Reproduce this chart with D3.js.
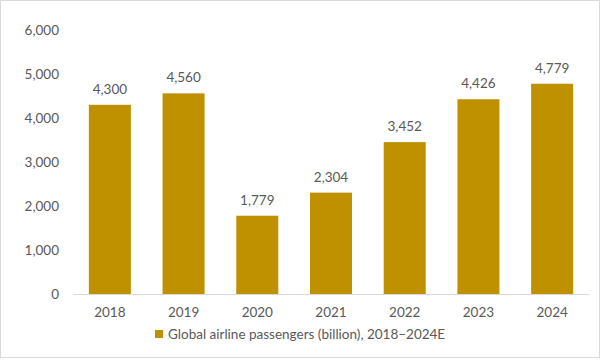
<!DOCTYPE html>
<html>
<head>
<meta charset="utf-8">
<script src="https://cdn.jsdelivr.net/npm/d3@7"></script>
<style>
  body { margin: 0; background: #fff; }
  text { font-family: Lato, "Open Sans", sans-serif; fill: #595959; }
</style>
</head>
<body>
<div id="chart"></div>
<script>
const years = ["2018", "2019", "2020", "2021", "2022", "2023", "2024"];
const passengers = [4300, 4560, 1779, 2304, 3452, 4426, 4779];
const yTicks = [0, 1000, 2000, 3000, 4000, 5000, 6000];
const seriesName = "Global airline passengers (billion), 2018\u20132024E";

const width = 600, height = 360;
const margins = { top: 30, right: 11, bottom: 66, left: 73 };
const color = "#BF9000";

const svg = d3.select("#chart")
  .append("svg")
  .attr("width", width)
  .attr("height", height);

svg.append("rect")
  .attr("x", 0.5).attr("y", 0.5)
  .attr("width", width - 1).attr("height", height - 3)
  .attr("fill", "#fff")
  .attr("stroke", "#d9d9d9");

const g = svg.append("g")
  .attr("transform", `translate(${margins.left}, ${margins.top})`);

const innerW = width - margins.left - margins.right;
const innerH = height - margins.top - margins.bottom;

const x = d3.scaleBand()
  .domain(years)
  .range([0, innerW])
  .paddingInner(0.43)
  .paddingOuter(0.215);

const y = d3.scaleLinear()
  .domain([0, 6000])
  .range([innerH, 0]);

const data = years.map((year, i) => ({ year, value: passengers[i] }));

g.append("g")
  .selectAll("rect")
  .data(data)
  .join("rect")
  .attr("x", d => x(d.year))
  .attr("y", d => y(d.value))
  .attr("width", x.bandwidth())
  .attr("height", d => y(0) - y(d.value))
  .attr("fill", color);

// value labels
g.append("g")
  .selectAll("text")
  .data(data)
  .join("text")
  .attr("x", d => x(d.year) + x.bandwidth() / 2)
  .attr("y", d => y(d.value) - 11)
  .attr("text-anchor", "middle")
  .attr("font-size", 13.5)
  .text(d => d3.format(",")(d.value));

// x axis
const xAxis = g.append("g")
  .attr("transform", `translate(0, ${innerH})`)
  .call(d3.axisBottom(x).tickSize(0).tickPadding(13));
xAxis.select(".domain").attr("stroke", "#d9d9d9");
xAxis.selectAll("text").attr("font-size", 13.5).attr("fill", "#595959");

// y axis
const yAxis = g.append("g")
  .call(d3.axisLeft(y).tickValues(yTicks).tickFormat(d3.format(",")).tickSize(0).tickPadding(14));
yAxis.select(".domain").remove();
yAxis.selectAll("text").attr("font-size", 13.5).attr("fill", "#595959");

// legend
const legend = svg.append("g").attr("transform", "translate(155, 334)");
legend.append("rect")
  .attr("x", 0).attr("y", -4)
  .attr("width", 8).attr("height", 8)
  .attr("fill", color);
legend.append("text")
  .attr("x", 13).attr("y", 0)
  .attr("dy", "0.35em")
  .attr("font-size", 13.5)
  .text(seriesName);
</script>
</body>
</html>
